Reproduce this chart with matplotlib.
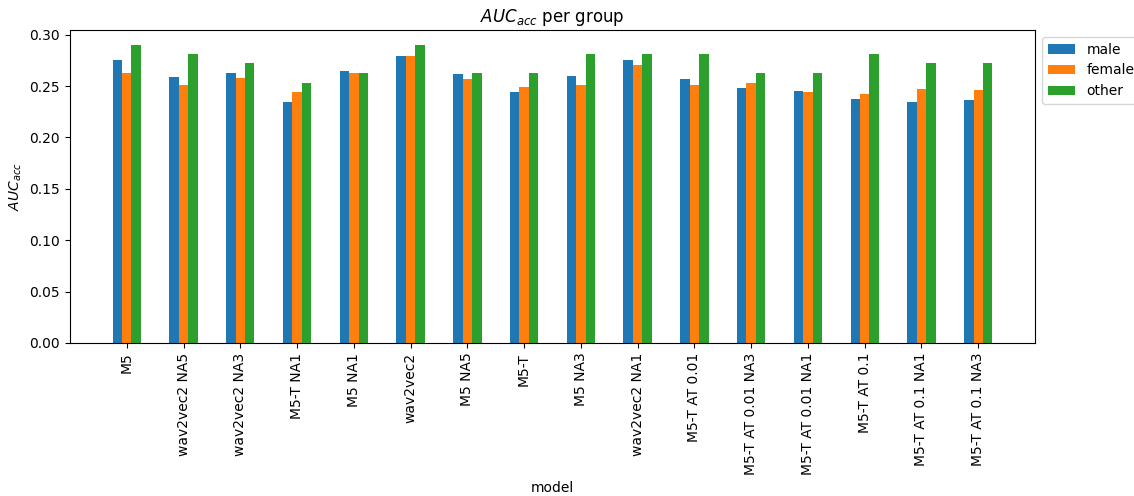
import numpy as np
import matplotlib
matplotlib.use("Agg")
import matplotlib.pyplot as plt

models = ["M5", "wav2vec2 NA5", "wav2vec2 NA3", "M5-T NA1", "M5 NA1", "wav2vec2",
          "M5 NA5", "M5-T", "M5 NA3", "wav2vec2 NA1", "M5-T AT 0.01",
          "M5-T AT 0.01 NA3", "M5-T AT 0.01 NA1", "M5-T AT 0.1",
          "M5-T AT 0.1 NA1", "M5-T AT 0.1 NA3"]
male = [0.275, 0.259, 0.263, 0.234, 0.265, 0.279, 0.262, 0.244, 0.260, 0.275,
        0.257, 0.248, 0.245, 0.237, 0.234, 0.236]
female = [0.263, 0.251, 0.258, 0.244, 0.263, 0.279, 0.257, 0.249, 0.251, 0.270,
          0.251, 0.253, 0.244, 0.242, 0.247, 0.246]
other = [0.290, 0.281, 0.272, 0.253, 0.263, 0.290, 0.263, 0.263, 0.281, 0.281,
         0.281, 0.263, 0.263, 0.281, 0.272, 0.272]

fig = plt.figure(figsize=(11.34, 4.96), dpi=100)
ax = fig.add_axes([0.0617, 0.3085, 0.851, 0.631])

x = np.arange(len(models))
w = 0.5 / 3
ax.bar(x - w, male, w, label="male", color="#1f77b4")
ax.bar(x, female, w, label="female", color="#ff7f0e")
ax.bar(x + w, other, w, label="other", color="#2ca02c")

ax.set_xticks(x)
ax.set_xticklabels(models, rotation=90)
ax.set_xlim(-1, len(models))
ax.set_ylim(0, max(other) * 1.05)
ax.set_yticks(np.arange(0, 0.31, 0.05))
ax.set_title("$AUC_{acc}$ per group")
ax.set_ylabel("$AUC_{acc}$")
ax.set_xlabel("model")
ax.legend(loc="upper left", bbox_to_anchor=(1, 1))

fig.savefig("out.png", dpi=100)
